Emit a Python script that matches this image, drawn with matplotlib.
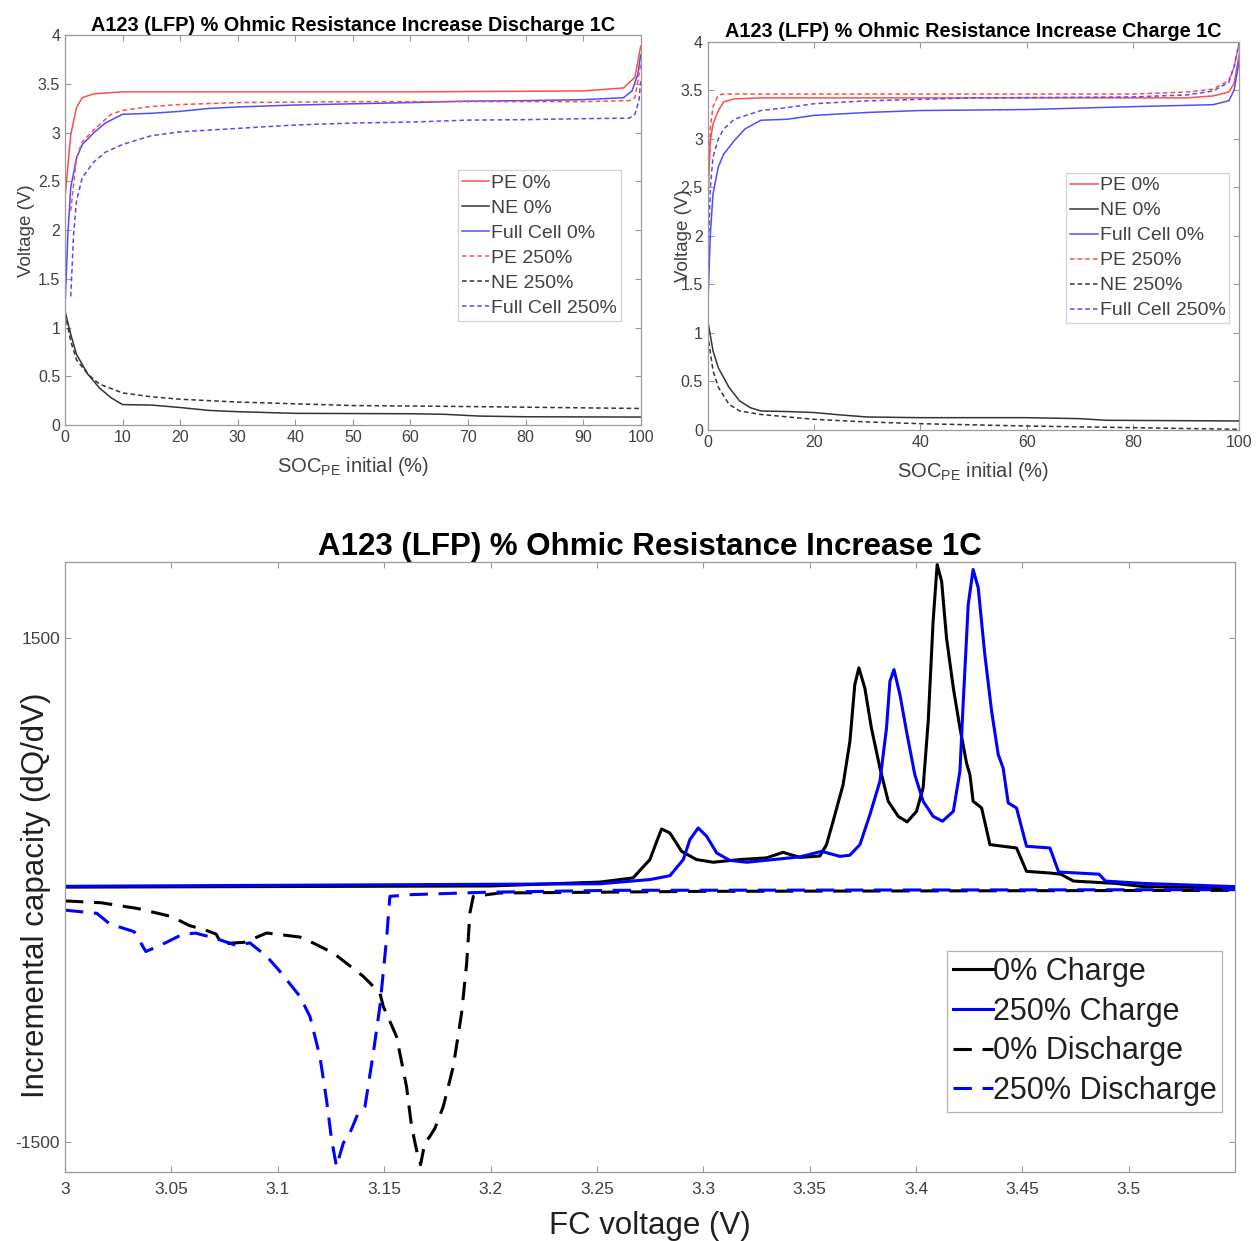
import numpy as np
import matplotlib.pyplot as plt

plt.rcParams['font.family'] = ['Liberation Sans', 'DejaVu Sans']
plt.rcParams['axes.unicode_minus'] = False

# ---- top left: discharge 1C ----
dis_pe0_x = [0, 1, 2, 3, 5, 10, 30, 60, 90, 97, 99, 100]
dis_pe0_y = [2.33, 2.98, 3.26, 3.36, 3.40, 3.42, 3.42, 3.42, 3.43, 3.46, 3.57, 3.89]
dis_fc0_x = [0, 0.5, 1, 2, 3, 5, 7, 10, 15, 20, 25, 30, 40, 60, 70, 80, 90, 97, 98.5, 99.5, 100]
dis_fc0_y = [1.20, 1.96, 2.44, 2.74, 2.88, 3.00, 3.10, 3.19, 3.20, 3.22, 3.25, 3.265, 3.285, 3.31,
             3.325, 3.33, 3.34, 3.36, 3.43, 3.60, 3.80]
dis_pe250_x = [1, 2, 3, 5, 8, 10, 15, 20, 30, 50, 90, 98, 99, 100]
dis_pe250_y = [2.20, 2.74, 2.91, 3.03, 3.19, 3.23, 3.27, 3.29, 3.31, 3.32, 3.32, 3.33, 3.36, 3.70]
dis_fc250_x = [1, 1.5, 2, 3, 5, 7, 10, 15, 20, 30, 40, 50, 60, 70, 80, 90, 98, 99, 99.7, 100]
dis_fc250_y = [1.32, 1.96, 2.30, 2.54, 2.70, 2.80, 2.88, 2.97, 3.01, 3.045, 3.08, 3.10, 3.11,
               3.13, 3.135, 3.145, 3.15, 3.19, 3.33, 3.53]
dis_ne0_x = [0, 1, 2, 4, 6, 8, 10, 15, 20, 25, 30, 40, 60, 66, 72, 80, 100]
dis_ne0_y = [1.17, 0.93, 0.725, 0.52, 0.38, 0.28, 0.21, 0.205, 0.18, 0.15, 0.137, 0.12, 0.116,
             0.11, 0.092, 0.085, 0.082]
dis_ne250_x = [0, 1, 2, 4, 6, 10, 15, 20, 30, 50, 70, 100]
dis_ne250_y = [1.15, 0.86, 0.67, 0.52, 0.42, 0.33, 0.29, 0.265, 0.236, 0.20, 0.19, 0.17]

# ---- top right: charge 1C ----
chg_pe0_x = [0, 0.5, 1, 2, 3, 5, 10, 50, 90, 95, 98, 99, 100]
chg_pe0_y = [2.36, 2.98, 3.15, 3.29, 3.38, 3.41, 3.42, 3.42, 3.42, 3.44, 3.48, 3.57, 3.88]
chg_pe250_x = [0, 0.5, 1, 2, 3, 50, 80, 90, 95, 98, 99, 100]
chg_pe250_y = [2.30, 3.12, 3.33, 3.45, 3.46, 3.46, 3.46, 3.48, 3.51, 3.60, 3.74, 4.0]
chg_fc0_x = [0, 0.5, 1, 2, 3, 5, 7, 10, 15, 20, 30, 40, 60, 80, 95, 98, 99, 100]
chg_fc0_y = [1.22, 2.02, 2.43, 2.71, 2.84, 2.98, 3.10, 3.19, 3.20, 3.24, 3.27, 3.29, 3.30, 3.33,
             3.35, 3.39, 3.50, 3.81]
chg_fc250_x = [0, 0.5, 1, 2, 3, 5, 10, 15, 20, 30, 50, 80, 90, 95, 98, 99, 100]
chg_fc250_y = [1.64, 2.50, 2.81, 3.00, 3.10, 3.20, 3.29, 3.32, 3.36, 3.39, 3.42, 3.43, 3.45,
               3.49, 3.58, 3.74, 4.0]
chg_ne0_x = [0, 1, 2, 4, 6, 8, 10, 15, 20, 25, 30, 40, 60, 70, 75, 100]
chg_ne0_y = [1.13, 0.815, 0.64, 0.44, 0.30, 0.23, 0.196, 0.19, 0.18, 0.155, 0.134, 0.127, 0.127,
             0.117, 0.10, 0.093]
chg_ne250_x = [0, 1, 2, 4, 6, 10, 20, 30, 40, 60, 80, 100]
chg_ne250_y = [0.99, 0.61, 0.44, 0.265, 0.196, 0.16, 0.11, 0.083, 0.065, 0.041, 0.024, 0.007]

# ---- bottom: incremental capacity ----
c0_v = [3.0, 3.2, 3.2514, 3.267, 3.2749, 3.2785, 3.2804, 3.2843, 3.2898, 3.2968, 3.3046, 3.3172,
        3.3297, 3.3375, 3.3454, 3.3548, 3.3579, 3.361, 3.3657, 3.3689, 3.3712, 3.3731, 3.3759,
        3.379, 3.383, 3.3869, 3.3916, 3.3958, 3.4002, 3.4033, 3.4057, 3.408, 3.4099, 3.412,
        3.4143, 3.4175, 3.4206, 3.4237, 3.4253, 3.4268, 3.4308, 3.4347, 3.4472, 3.4519, 3.4629,
        3.468, 3.474, 3.494, 3.507, 3.55]
c0_q = [15, 22, 45, 70, 179, 300, 361, 337, 228, 179, 163, 179, 189, 222, 192, 200, 268, 407, 625,
        883, 1220, 1320, 1200, 962, 724, 526, 436, 403, 466, 605, 1002, 1597, 1934, 1835, 1498,
        1200, 962, 754, 684, 526, 486, 268, 248, 109, 99, 92, 51, 37, 18, 10]
c250_v = [3.0, 3.2514, 3.2749, 3.2843, 3.2906, 3.2937, 3.2976, 3.3016, 3.3063, 3.3125, 3.3204,
          3.3329, 3.3454, 3.3556, 3.3642, 3.3689, 3.3736, 3.3783, 3.383, 3.3861, 3.3877, 3.3896,
          3.3924, 3.3955, 3.3994, 3.4033, 3.408, 3.4124, 3.4175, 3.4206, 3.4221, 3.4245, 3.4268,
          3.4292, 3.4323, 3.4355, 3.4386, 3.4409, 3.4433, 3.4472, 3.4519, 3.4629, 3.467, 3.486,
          3.489, 3.507, 3.55]
c250_q = [20, 35, 60, 83, 179, 298, 367, 317, 218, 174, 163, 179, 195, 228, 198, 205, 268, 446,
          645, 962, 1240, 1309, 1161, 942, 684, 526, 436, 407, 466, 704, 1101, 1696, 1905, 1796,
          1399, 1061, 804, 724, 516, 486, 258, 248, 105, 92, 51, 37, 18]
d0_v = [3.0, 3.017, 3.0345, 3.050, 3.0585, 3.065, 3.071, 3.074, 3.077, 3.0845, 3.0948, 3.1104,
        3.1151, 3.1261, 3.1402, 3.148, 3.1496, 3.1558, 3.1605, 3.1629, 3.1652, 3.1671, 3.1691,
        3.1715, 3.1739, 3.1778, 3.1825, 3.1864, 3.1888, 3.1903, 3.1919, 3.2044, 3.30, 3.55]
d0_q = [-67, -78, -113, -160, -214, -236, -264, -332, -319, -313, -258, -282, -308, -377, -516,
        -615, -695, -873, -1171, -1409, -1548, -1637, -1508, -1468, -1419, -1290, -1052, -734,
        -436, -139, -40, -20, -10, -4]
d250_v = [3.0, 3.015, 3.021, 3.0325, 3.038, 3.046, 3.0555, 3.0615, 3.071, 3.0805, 3.0869, 3.0948,
          3.101, 3.1104, 3.1151, 3.1198, 3.1229, 3.1253, 3.1276, 3.1308, 3.1339, 3.1378, 3.141,
          3.1449, 3.148, 3.1511, 3.1527, 3.1621, 3.1966, 3.257, 3.55]
d250_q = [-122, -141, -204, -250, -368, -324, -264, -259, -291, -332, -317, -397, -486, -635,
          -754, -992, -1250, -1488, -1647, -1508, -1448, -1329, -1290, -972, -695, -298, -40,
          -30, -16, -4, 0]

red = '#ff4d4d'
blue = '#4d4dff'
gray_txt = '#404040'
spine_c = '#9a9a9a'


def style_axes(ax, fs):
    for s in ax.spines.values():
        s.set_color(spine_c)
        s.set_linewidth(0.9)
    ax.tick_params(direction='in', top=True, right=True, length=4, width=0.8,
                   colors=spine_c, labelcolor=gray_txt, labelsize=fs)


def voltage_panel(ax, title, xticks, curves, leg_anchor):
    for x, y, c, ls, lab in curves:
        if ls == 'dash':
            ax.plot(x, y, color=c, lw=1.1, dashes=(3, 2), label=lab)
        else:
            ax.plot(x, y, color=c, lw=1.1, label=lab)
    ax.set_xlim(0, 100)
    ax.set_ylim(0, 4)
    ax.set_xticks(xticks)
    ax.set_yticks(np.arange(0, 4.01, 0.5))
    ax.set_yticklabels(['0', '0.5', '1', '1.5', '2', '2.5', '3', '3.5', '4'])
    style_axes(ax, 11.5)
    ax.set_title(title, fontsize=14.3, fontweight='bold', pad=3)
    ax.set_xlabel('SOC$_{\\mathregular{PE}}$ initial (%)', fontsize=14.5, color=gray_txt, labelpad=7)
    leg = ax.legend(loc='upper right', bbox_to_anchor=leg_anchor, fontsize=14, frameon=True,
                    fancybox=False, handlelength=1.4, handletextpad=0.1, borderpad=0.2,
                    labelspacing=0.38, borderaxespad=0)
    leg.get_frame().set_edgecolor('#c8c8c8')
    leg.get_frame().set_linewidth(0.9)
    for t in leg.get_texts():
        t.set_color(gray_txt)


fig = plt.figure(figsize=(12.57, 12.41), dpi=100)

ax1 = fig.add_axes([0.0517, 0.6575, 0.458, 0.314])
voltage_panel(ax1, 'A123 (LFP) % Ohmic Resistance Increase Discharge 1C', np.arange(0, 101, 10), [
    (dis_pe0_x, dis_pe0_y, red, 'solid', 'PE 0%'),
    (dis_ne0_x, dis_ne0_y, '#333333', 'solid', 'NE 0%'),
    (dis_fc0_x, dis_fc0_y, blue, 'solid', 'Full Cell 0%'),
    (dis_pe250_x, dis_pe250_y, red, 'dash', 'PE 250%'),
    (dis_ne250_x, dis_ne250_y, '#333333', 'dash', 'NE 250%'),
    (dis_fc250_x, dis_fc250_y, blue, 'dash', 'Full Cell 250%'),
], (0.965, 0.654))
ax1.set_ylabel('Voltage (V)', fontsize=13.5, color=gray_txt, labelpad=2)

ax2 = fig.add_axes([0.563, 0.6535, 0.423, 0.313])
voltage_panel(ax2, 'A123 (LFP) % Ohmic Resistance Increase Charge 1C', np.arange(0, 101, 20), [
    (chg_pe0_x, chg_pe0_y, red, 'solid', 'PE 0%'),
    (chg_ne0_x, chg_ne0_y, '#333333', 'solid', 'NE 0%'),
    (chg_fc0_x, chg_fc0_y, blue, 'solid', 'Full Cell 0%'),
    (chg_pe250_x, chg_pe250_y, red, 'dash', 'PE 250%'),
    (chg_ne250_x, chg_ne250_y, '#333333', 'dash', 'NE 250%'),
    (chg_fc250_x, chg_fc250_y, blue, 'dash', 'Full Cell 250%'),
], (0.981, 0.662))
ax2.set_ylabel('Voltage (V)', fontsize=13.5, color=gray_txt, labelpad=-8)

ax3 = fig.add_axes([0.0517, 0.0556, 0.931, 0.4916])
ax3.plot(c0_v, c0_q, color='black', lw=2.2, label='0% Charge')
ax3.plot(c250_v, c250_q, color='#0000ff', lw=2.2, label='250% Charge')
ax3.plot(d0_v, d0_q, color='black', lw=2.2, dashes=(6, 3.5), label='0% Discharge')
ax3.plot(d250_v, d250_q, color='#0000ff', lw=2.2, dashes=(6, 3.5), label='250% Discharge')
ax3.set_xlim(3.0, 3.55)
ax3.set_ylim(-1680, 1950)
ax3.set_xticks([3, 3.05, 3.1, 3.15, 3.2, 3.25, 3.3, 3.35, 3.4, 3.45, 3.5])
ax3.set_xticklabels(['3', '3.05', '3.1', '3.15', '3.2', '3.25', '3.3', '3.35', '3.4', '3.45', '3.5'])
ax3.set_yticks([-1500, 1500])
style_axes(ax3, 12.5)
ax3.tick_params(axis='x', pad=7)
ax3.set_title('A123 (LFP) % Ohmic Resistance Increase 1C', fontsize=22.5, fontweight='bold', pad=5)
ax3.set_xlabel('FC voltage (V)', fontsize=22.5, color='#202020', labelpad=10)
ax3.set_ylabel('Incremental capacity (dQ/dV)', fontsize=22.5, color='#202020')
ax3.yaxis.set_label_coords(-0.012, 0.454)
leg3 = ax3.legend(loc='lower right', bbox_to_anchor=(0.989, 0.098), fontsize=22, frameon=True,
                  fancybox=False, handlelength=1.3, handletextpad=0.0, borderpad=0.2,
                  labelspacing=0.32, borderaxespad=0)
leg3.get_frame().set_edgecolor('#a0a0a0')
leg3.get_frame().set_linewidth(0.9)
for t in leg3.get_texts():
    t.set_color('#202020')

fig.savefig('out.png', dpi=100, facecolor='white')
